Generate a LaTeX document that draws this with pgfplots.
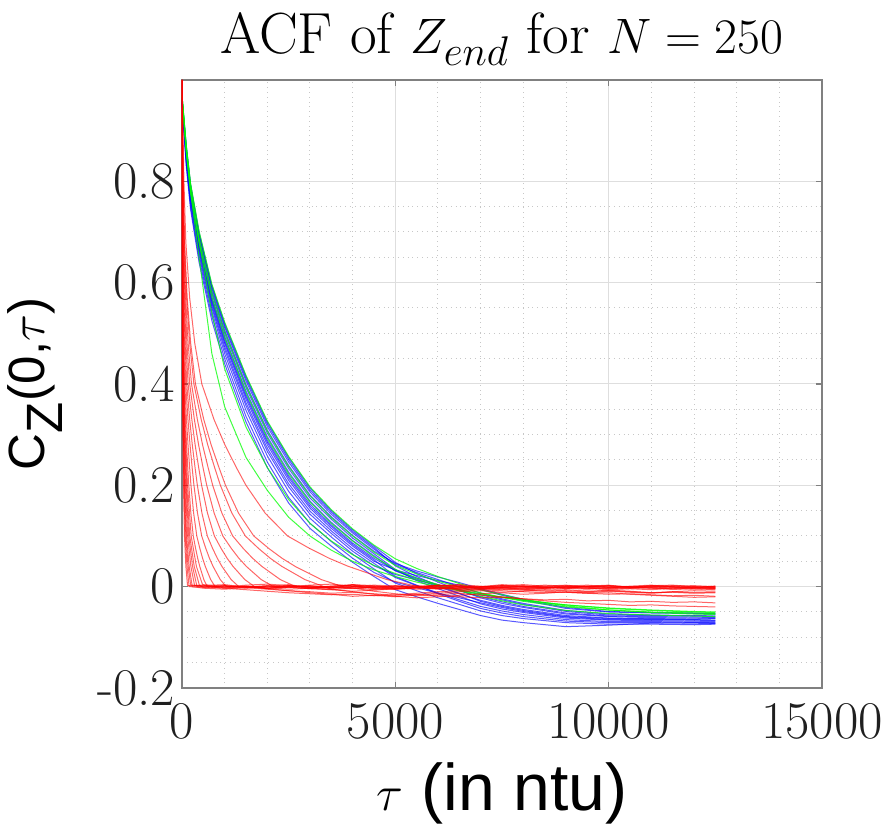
\documentclass[border=0pt]{standalone}
\usepackage{pgfplots}
\pgfplotsset{compat=1.18}
\usepackage{pgfplotstable}
\usepackage{fontspec}
\setsansfont{Liberation Sans}

\pgfplotstableread{
x b1 b2 b3 b4 b5 b6 b7 b8 b9 b10 b11 b12 b13 b14
0 0.955 0.956 0.958 0.959 0.959 0.960 0.960 0.961 0.962 0.963 0.963 0.964 0.965 0.965
100 0.830 0.835 0.840 0.844 0.847 0.850 0.852 0.854 0.857 0.860 0.863 0.866 0.868 0.870
200 0.745 0.751 0.758 0.763 0.766 0.770 0.773 0.775 0.779 0.783 0.786 0.790 0.793 0.795
400 0.640 0.648 0.655 0.661 0.666 0.670 0.673 0.676 0.681 0.685 0.690 0.694 0.697 0.700
700 0.525 0.534 0.543 0.550 0.555 0.560 0.564 0.567 0.572 0.578 0.583 0.588 0.592 0.595
1000 0.440 0.450 0.460 0.468 0.474 0.480 0.484 0.488 0.494 0.500 0.506 0.512 0.516 0.520
1500 0.325 0.336 0.348 0.357 0.363 0.370 0.375 0.379 0.386 0.393 0.399 0.406 0.411 0.415
2000 0.235 0.246 0.258 0.267 0.273 0.280 0.285 0.289 0.296 0.303 0.309 0.316 0.321 0.325
2500 0.165 0.176 0.188 0.197 0.203 0.210 0.215 0.219 0.226 0.233 0.239 0.246 0.251 0.255
3000 0.115 0.125 0.135 0.143 0.149 0.155 0.159 0.163 0.169 0.175 0.181 0.187 0.191 0.195
3500 0.080 0.089 0.098 0.105 0.110 0.115 0.119 0.122 0.127 0.133 0.138 0.143 0.147 0.150
4000 0.048 0.056 0.064 0.070 0.075 0.080 0.083 0.086 0.091 0.096 0.101 0.106 0.109 0.112
4500 0.020 0.028 0.035 0.041 0.046 0.050 0.053 0.056 0.061 0.065 0.070 0.074 0.077 0.080
5000 -0.006 0.009 0.007 0.024 0.018 0.033 0.020 0.032 0.031 0.034 0.046 0.044 0.041 0.048
5500 -0.020 -0.002 -0.008 0.013 0.002 0.022 0.003 0.017 0.015 0.012 0.031 0.028 0.020 0.026
6000 -0.033 -0.013 -0.022 0.003 -0.012 0.012 -0.014 0.004 0.000 -0.004 0.019 0.014 0.002 0.009
6500 -0.045 -0.022 -0.035 -0.006 -0.026 0.003 -0.029 -0.008 -0.014 -0.019 0.008 0.000 -0.013 -0.007
7000 -0.057 -0.032 -0.048 -0.016 -0.039 -0.006 -0.043 -0.020 -0.027 -0.034 -0.004 -0.013 -0.029 -0.022
7500 -0.066 -0.041 -0.057 -0.026 -0.048 -0.017 -0.052 -0.030 -0.037 -0.044 -0.015 -0.024 -0.039 -0.033
8000 -0.071 -0.049 -0.063 -0.035 -0.055 -0.027 -0.059 -0.039 -0.045 -0.051 -0.025 -0.033 -0.047 -0.041
9000 -0.079 -0.060 -0.071 -0.049 -0.065 -0.043 -0.068 -0.052 -0.057 -0.062 -0.041 -0.047 -0.059 -0.054
10000 -0.076 -0.065 -0.074 -0.056 -0.069 -0.050 -0.071 -0.058 -0.062 -0.066 -0.049 -0.054 -0.063 -0.059
11000 -0.072 -0.065 -0.074 -0.057 -0.069 -0.052 -0.071 -0.059 -0.063 -0.067 -0.051 -0.056 -0.064 -0.061
12000 -0.071 -0.066 -0.075 -0.058 -0.070 -0.053 -0.072 -0.060 -0.064 -0.068 -0.052 -0.057 -0.065 -0.062
12500 -0.072 -0.067 -0.074 -0.059 -0.071 -0.054 -0.073 -0.061 -0.063 -0.069 -0.053 -0.056 -0.066 -0.062
}\bluedata

\pgfplotstableread{
x g1 g2 g3 g4 g5
0 0.970 0.970 0.970 0.970 0.965
100 0.860 0.870 0.862 0.871 0.856
200 0.780 0.795 0.785 0.796 0.777
400 0.650 0.680 0.688 0.702 0.679
700 0.460 0.540 0.581 0.597 0.570
1000 0.355 0.430 0.504 0.522 0.492
1500 0.255 0.315 0.397 0.417 0.383
2000 0.190 0.235 0.307 0.327 0.293
2500 0.137 0.172 0.237 0.257 0.223
3000 0.100 0.125 0.179 0.197 0.167
3500 0.072 0.090 0.136 0.152 0.125
4000 0.050 0.063 0.100 0.114 0.090
4500 0.033 0.042 0.068 0.082 0.059
5000 0.020 0.026 0.042 0.055 0.034
5500 0.009 0.013 0.025 0.036 0.017
6000 0.000 0.003 0.011 0.020 0.004
6500 -0.008 -0.006 -0.001 0.006 -0.008
7000 -0.015 -0.014 -0.012 -0.006 -0.019
7500 -0.021 -0.021 -0.021 -0.016 -0.028
8000 -0.027 -0.027 -0.029 -0.025 -0.036
9000 -0.036 -0.036 -0.040 -0.038 -0.047
10000 -0.042 -0.043 -0.046 -0.046 -0.053
11000 -0.046 -0.047 -0.050 -0.051 -0.056
12000 -0.049 -0.050 -0.052 -0.054 -0.058
12500 -0.050 -0.051 -0.053 -0.055 -0.059
}\greendata

\pgfplotsset{
  bline/.style={draw={rgb,1:red,0;green,0;blue,1}, line width=0.5pt, opacity=0.65, no marks, line join=round},
  gline/.style={draw={rgb,1:red,0;green,1;blue,0}, line width=0.5pt, opacity=0.75, no marks, line join=round},
  rline/.style={draw={rgb,1:red,1;green,0;blue,0}, line width=0.5pt, opacity=0.6, no marks, line join=round},
}

\begin{document}
\begin{tikzpicture}
\useasboundingbox (0,0) rectangle (442.5pt,412.5pt);
\begin{axis}[
  at={(91pt,68.5pt)}, anchor=south west,
  width=320pt, height=304pt, scale only axis,
  xmin=0, xmax=15000, ymin=-0.2, ymax=1,
  scaled x ticks=false, scaled y ticks=false,
  xtick={0,5000,10000,15000}, xticklabels={0,5000,10000,15000},
  ytick={-0.2,0,0.2,0.4,0.6,0.8}, yticklabels={-0.2,0,0.2,0.4,0.6,0.8},
  minor x tick num=4, minor y tick num=3,
  grid=both,
  major grid style={solid, draw=black!13, line width=0.5pt},
  minor grid style={dotted, draw=black!22, line width=0.5pt},
  tick align=inside, major tick length=3pt, minor tick length=0pt,
  axis line style={draw=black!50, line width=0.6pt},
  every tick/.style={draw=black!50, line width=0.6pt},
  tick label style={font=\fontsize{26.5}{30}\selectfont, text=black!88},
  xticklabel style={yshift=-4pt},
  title={ACF of $Z_{end}$ for $N=250$},
  title style={font=\fontsize{29}{33}\selectfont, at={(axis description cs:0.5,1)}, anchor=base, yshift=7pt},
  xlabel={$\tau$ (in ntu)},
  xlabel style={font=\sffamily\fontsize{33}{38}\selectfont, at={(axis description cs:0.5,-0.173)}, anchor=center},
  ylabel={C$_{\textsf{Z}}$(0,$\tau$)},
  ylabel style={font=\sffamily\fontsize{25.5}{30}\selectfont, at={(axis description cs:-0.23,0.5)}, anchor=center},
]
\pgfplotsinvokeforeach{b1,b2,b3,b4,b5,b6,b7,b8,b9,b10,b11,b12,b13,b14}{
  \addplot[bline] table[x=x,y=#1]{\bluedata};
}
\pgfplotsinvokeforeach{g1,g2,g3,g4,g5}{
  \addplot[gline] table[x=x,y=#1]{\greendata};
}
% fast red curves
\addplot[rline] coordinates {(0,1)(2,0.68)(7,0.48)(18,0.33)(35,0.2)(58,0.1)(91,0.04)(130,0.002)(500,0.003)(1000,-0.002)(1500,0.001)(2000,-0.004)(2500,0.002)(3000,0)(3500,-0.003)(4000,0.004)(4500,-0.001)(5000,0.002)(5500,-0.002)(6000,0.001)(6500,0.003)(7000,-0.003)(7500,0)(8000,0.002)(8500,-0.001)(9000,-0.004)(9500,0.001)(10000,0.003)(10500,-0.002)(11000,0)(11500,0.002)(12000,-0.001)(12500,0.001)};
\addplot[rline] coordinates {(0,1)(3,0.68)(9,0.48)(23,0.33)(45,0.2)(74,0.1)(117,0.04)(167,0.0)(500,-0.001)(1000,0.002)(1500,-0.003)(2000,0.001)(2500,0.004)(3000,-0.002)(3500,0)(4000,0.003)(4500,-0.004)(5000,0.001)(5500,0.002)(6000,-0.001)(6500,-0.003)(7000,0)(7500,0.004)(8000,0.001)(8500,-0.002)(9000,0.002)(9500,-0.001)(10000,-0.003)(10500,0.001)(11000,0.003)(11500,0)(12000,-0.002)(12500,-0.001)};
\addplot[rline] coordinates {(0,1)(3,0.68)(11,0.48)(28,0.33)(55,0.2)(91,0.1)(143,0.04)(204,0.003)(500,0.002)(1000,0.004)(1500,-0.001)(2000,-0.003)(2500,0)(3000,0.003)(3500,0.005)(4000,0.001)(4500,-0.002)(5000,-0.004)(5500,-0.001)(6000,0.002)(6500,0)(7000,-0.003)(7500,-0.005)(8000,-0.002)(8500,0.001)(9000,0.003)(9500,-0.001)(10000,-0.004)(10500,-0.002)(11000,0)(11500,-0.003)(12000,-0.001)(12500,-0.004)};
\addplot[rline] coordinates {(0,1)(4,0.68)(13,0.48)(33,0.33)(65,0.2)(107,0.1)(169,0.04)(241,0.0)(500,-0.003)(1000,-0.005)(1500,-0.002)(2000,0.001)(2500,-0.001)(3000,-0.004)(3500,-0.006)(4000,-0.003)(4500,0)(5000,-0.002)(5500,-0.005)(6000,-0.003)(6500,-0.001)(7000,-0.004)(7500,-0.002)(8000,0.001)(8500,-0.001)(9000,-0.003)(9500,0)(10000,0.002)(10500,-0.001)(11000,-0.003)(11500,-0.002)(12000,0)(12500,-0.002)};
\addplot[rline] coordinates {(0,1)(5,0.68)(16,0.48)(40,0.33)(80,0.2)(132,0.1)(208,0.04)(296,0.002)(500,0.001)(1000,-0.001)(1500,0.003)(2000,0.005)(2500,0.002)(3000,-0.001)(3500,0.001)(4000,0.004)(4500,0.002)(5000,-0.002)(5500,0)(6000,0.003)(6500,0.001)(7000,-0.001)(7500,0.002)(8000,0.004)(8500,0.001)(9000,-0.002)(9500,0)(10000,0.001)(10500,-0.001)(11000,0.002)(11500,0.003)(12000,0)(12500,-0.001)};
\addplot[rline] coordinates {(0,1)(6,0.68)(19,0.48)(48,0.33)(95,0.2)(157,0.1)(247,0.04)(352,0.0)(500,0)(1000,-0.003)(1500,-0.006)(2000,-0.009)(2500,-0.012)(3000,-0.014)(3500,-0.016)(4000,-0.015)(4500,-0.018)(5000,-0.016)(5500,-0.013)(6000,-0.01)(6500,-0.008)(7000,-0.006)(7500,-0.005)(8000,-0.007)(8500,-0.009)(9000,-0.011)(9500,-0.013)(10000,-0.012)(10500,-0.015)(11000,-0.017)(11500,-0.019)(12000,-0.021)(12500,-0.02)};
\addplot[rline] coordinates {(0,1)(7,0.68)(22,0.48)(55,0.33)(110,0.2)(182,0.1)(286,0.04)(407,0.003)(500,-0.002)(1000,0.001)(1500,0)(2000,-0.003)(2500,-0.001)(3000,0.002)(3500,-0.002)(4000,-0.004)(4500,-0.001)(5000,0.001)(5500,-0.001)(6000,-0.003)(6500,-0.006)(7000,-0.004)(7500,-0.002)(8000,-0.005)(8500,-0.007)(9000,-0.006)(9500,-0.009)(10000,-0.008)(10500,-0.01)(11000,-0.012)(11500,-0.011)(12000,-0.013)(12500,-0.012)};
\addplot[rline] coordinates {(0,1)(8,0.68)(26,0.48)(65,0.33)(130,0.2)(215,0.1)(338,0.04)(481,0.004)(1000,0.001)(1500,-0.001)(2000,0.002)(2500,0)(3000,-0.002)(3500,0.001)(4000,0.003)(4500,0)(5000,-0.003)(5500,-0.001)(6000,0.002)(6500,0.004)(7000,0.001)(7500,-0.002)(8000,0)(8500,0.003)(9000,0.001)(9500,-0.001)(10000,0.002)(10500,0)(11000,-0.002)(11500,0.001)(12000,0.002)(12500,0)};
% slower red curves
\addplot[rline] coordinates {(0,1)(2,0.9)(5,0.8)(10,0.68)(19,0.57)(32,0.48)(50,0.4)(80,0.33)(107,0.28)(136,0.235)(160,0.2)(208,0.145)(264,0.1)(320,0.075)(368,0.056)(416,0.04)(512,0.014)(592,0)(1000,-0.003)(1500,0.001)(2000,-0.002)(2500,-0.005)(3000,-0.003)(3500,0)(4000,-0.002)(4500,-0.006)(5000,-0.004)(5500,-0.001)(6000,-0.003)(6500,-0.005)(7000,-0.002)(7500,0)(8000,-0.003)(8500,-0.004)(9000,-0.001)(9500,-0.003)(10000,-0.006)(10500,-0.004)(11000,-0.002)(11500,-0.005)(12000,-0.003)(12500,-0.004)};
\addplot[rline] coordinates {(0,1)(3,0.9)(6,0.8)(13,0.68)(25,0.57)(42,0.48)(65,0.4)(105,0.33)(141,0.28)(179,0.235)(210,0.2)(273,0.145)(347,0.1)(420,0.075)(483,0.056)(546,0.04)(672,0.014)(777,0)(1000,0.002)(1500,0)(2000,-0.003)(2500,-0.001)(3000,0.001)(3500,-0.002)(4000,0)(4500,0.003)(5000,0.001)(5500,-0.001)(6000,-0.004)(6500,-0.002)(7000,0)(7500,0.002)(8000,-0.001)(8500,-0.003)(9000,0)(9500,0.001)(10000,-0.002)(10500,-0.001)(11000,0.001)(11500,-0.001)(12000,-0.003)(12500,-0.002)};
\addplot[rline] coordinates {(0,1)(4,0.9)(8,0.8)(17,0.68)(34,0.57)(56,0.48)(87,0.4)(140,0.33)(188,0.28)(238,0.235)(280,0.2)(364,0.145)(462,0.1)(560,0.075)(644,0.056)(728,0.04)(896,0.014)(1036,0)(1500,-0.002)(2000,-0.005)(2500,-0.008)(3000,-0.01)(3500,-0.013)(4000,-0.011)(4500,-0.014)(5000,-0.017)(5500,-0.015)(6000,-0.018)(6500,-0.02)(7000,-0.022)(7500,-0.021)(8000,-0.024)(8500,-0.026)(9000,-0.025)(9500,-0.028)(10000,-0.027)(10500,-0.03)(11000,-0.029)(11500,-0.031)(12000,-0.03)(12500,-0.032)};
\addplot[rline] coordinates {(0,1)(5,0.9)(11,0.8)(22,0.68)(43,0.57)(72,0.48)(112,0.4)(180,0.33)(241,0.28)(306,0.235)(360,0.2)(468,0.145)(594,0.1)(720,0.075)(828,0.056)(936,0.04)(1152,0.014)(1332,0)(2000,0.001)(2500,-0.001)(3000,-0.004)(3500,-0.002)(4000,0)(4500,-0.003)(5000,-0.005)(5500,-0.002)(6000,-0.001)(6500,0.001)(7000,-0.002)(7500,-0.004)(8000,-0.006)(8500,-0.003)(9000,-0.001)(9500,-0.004)(10000,-0.002)(10500,0)(11000,-0.003)(11500,-0.005)(12000,-0.004)(12500,-0.006)};
\addplot[rline] coordinates {(0,1)(7,0.9)(14,0.8)(28,0.68)(55,0.57)(92,0.48)(143,0.4)(230,0.33)(308,0.28)(391,0.235)(460,0.2)(598,0.145)(759,0.1)(920,0.075)(1058,0.056)(1196,0.04)(1472,0.014)(1702,0)(2000,-0.004)(2500,-0.008)(3000,-0.012)(3500,-0.015)(4000,-0.019)(4500,-0.017)(5000,-0.02)(5500,-0.016)(6000,-0.013)(6500,-0.01)(7000,-0.008)(7500,-0.011)(8000,-0.009)(8500,-0.006)(9000,-0.008)(9500,-0.01)(10000,-0.007)(10500,-0.009)(11000,-0.012)(11500,-0.01)(12000,-0.008)(12500,-0.009)};
\addplot[rline] coordinates {(0,1)(9,0.9)(17,0.8)(35,0.68)(70,0.57)(116,0.48)(180,0.4)(290,0.33)(389,0.28)(493,0.235)(580,0.2)(754,0.145)(957,0.1)(1160,0.075)(1334,0.056)(1508,0.04)(1856,0.014)(2146,0)(2500,0.002)(3000,-0.001)(3500,-0.003)(4000,0)(4500,-0.002)(5000,-0.005)(5500,-0.003)(6000,-0.001)(6500,-0.004)(7000,-0.006)(7500,-0.008)(8000,-0.01)(8500,-0.012)(9000,-0.011)(9500,-0.013)(10000,-0.015)(10500,-0.014)(11000,-0.016)(11500,-0.018)(12000,-0.017)(12500,-0.019)};
\addplot[rline] coordinates {(0,1)(11,0.9)(22,0.8)(43,0.68)(86,0.57)(144,0.48)(223,0.4)(360,0.33)(482,0.28)(612,0.235)(720,0.2)(936,0.145)(1188,0.1)(1440,0.075)(1656,0.056)(1872,0.04)(2304,0.014)(2664,0)(3000,-0.003)(3500,-0.006)(4000,-0.009)(4500,-0.007)(5000,-0.004)(5500,-0.002)(6000,-0.005)(6500,-0.003)(7000,0)(7500,-0.002)(8000,-0.004)(8500,-0.001)(9000,-0.003)(9500,-0.005)(10000,-0.002)(10500,-0.004)(11000,-0.006)(11500,-0.003)(12000,-0.005)(12500,-0.004)};
\addplot[rline] coordinates {(0,1)(14,0.9)(27,0.8)(54,0.68)(108,0.57)(180,0.48)(279,0.4)(450,0.33)(603,0.28)(765,0.235)(900,0.2)(1170,0.145)(1485,0.1)(1800,0.075)(2070,0.056)(2340,0.04)(2880,0.014)(3330,0)(3500,-0.005)(4000,-0.01)(4500,-0.015)(5000,-0.019)(5500,-0.022)(6000,-0.02)(6500,-0.017)(7000,-0.014)(7500,-0.012)(8000,-0.015)(8500,-0.013)(9000,-0.01)(9500,-0.012)(10000,-0.009)(10500,-0.011)(11000,-0.013)(11500,-0.01)(12000,-0.012)(12500,-0.011)};
\addplot[rline] coordinates {(0,1)(15,0.9)(31,0.8)(61,0.68)(122,0.57)(204,0.48)(316,0.4)(510,0.33)(683,0.28)(867,0.235)(1020,0.2)(1326,0.145)(1683,0.1)(2040,0.075)(2346,0.056)(2652,0.04)(3264,0.014)(3774,0)(4500,-0.009)(5000,-0.014)(5500,-0.018)(6000,-0.016)(6500,-0.013)(7000,-0.017)(7500,-0.02)(8000,-0.024)(8500,-0.028)(9000,-0.031)(9500,-0.033)(10000,-0.035)(10500,-0.037)(11000,-0.036)(11500,-0.038)(12000,-0.039)(12500,-0.04)};
\addplot[rline] coordinates {(0,1)(23,0.9)(45,0.8)(90,0.68)(180,0.57)(300,0.48)(465,0.4)(750,0.33)(1005,0.28)(1275,0.235)(1500,0.2)(1950,0.145)(2475,0.1)(3000,0.075)(3450,0.056)(3900,0.04)(4800,0.014)(5550,0)(6000,0.003)(6500,0.001)(7000,-0.001)(7500,0.002)(8000,0)(8500,-0.002)(9000,0.001)(9500,0.003)(10000,0)(10500,-0.001)(11000,0.002)(11500,0)(12000,-0.002)(12500,0.001)};
\end{axis}
\end{tikzpicture}
\end{document}
